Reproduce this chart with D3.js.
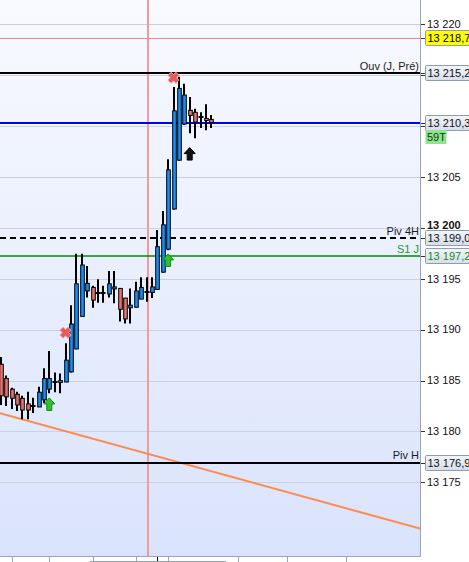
<!DOCTYPE html>
<html><head><meta charset="utf-8">
<script src="https://cdn.jsdelivr.net/npm/d3@7"></script>
<style>html,body{margin:0;padding:0;background:#fff;overflow:hidden}svg{display:block}</style>
</head><body><svg id="c" width="469" height="562"></svg>
<script>
// ---- DATA ----
const candleIdx = d3.range(40);
const opens  = [13186.6,13185.2,13184.15,13183.65,13183.25,13182.7,13182.45,13182.4,13183.1,13184.15,13184.9,13184.8,13184.85,13185.85,13188.1,13191.3,13193.8,13194.15,13193.6,13193.6,13193.5,13194.0,13194.05,13193.1,13192.15,13192.2,13193.0,13193.7,13193.65,13193.95,13195.65,13197.9,13201.85,13206.65,13210.2,13211.55,13211.35,13210.85,13210.75,13210.65];
const highs  = [13187.3,13185.5,13184.3,13183.9,13183.5,13183.9,13183.3,13184.4,13186.2,13187.9,13185.8,13185.7,13188.65,13192.4,13197.45,13197.45,13196.25,13194.3,13194.95,13194.3,13195.75,13195.75,13194.1,13193.1,13194.05,13194.7,13195.15,13195.15,13195.15,13199.8,13201.65,13206.75,13213.85,13214.85,13214.15,13212.85,13211.7,13211.35,13212.15,13211.1];
const lows   = [13182.6,13182.5,13182.2,13182.0,13181.2,13181.2,13181.8,13182.4,13182.8,13183.75,13183.85,13183.75,13184.85,13185.8,13188.1,13191.3,13193.15,13192.15,13192.65,13192.65,13193.15,13192.6,13190.8,13190.6,13190.6,13192.2,13193.0,13192.75,13193.1,13193.9,13195.6,13197.8,13201.8,13206.6,13210.1,13209.3,13208.8,13209.8,13209.6,13209.8];
const closes = [13183.5,13183.4,13183.25,13182.6,13182.1,13182.1,13182.45,13183.85,13185.2,13185.2,13184.9,13185.0,13187.0,13190.55,13194.5,13196.35,13194.55,13192.9,13193.6,13193.6,13194.5,13194.2,13192.0,13191.05,13192.4,13193.8,13194.15,13193.7,13194.2,13198.15,13200.3,13205.7,13211.5,13213.7,13213.05,13211.05,13210.4,13210.85,13210.55,13210.35];

const priceTicks = [13175,13180,13185,13190,13195,13200,13205,13210,13215,13220];
const timeTickIdx = [2,9,17,25,29,31,44,53,64];
const currentTickIdx = 29;
const cursorIdx = 27;
const scrollRange = [16.5,41.7];

const levelValues = [13218.7,13215.2,13210.3,13199.0,13197.2,13176.9];
const levelLabels = ["","Ouv (J, Pré)","","Piv 4H","S1 J","Piv H"];
const levelKinds  = ["last","open","avg","piv4h","s1","pivh"];

const trendIdx = [-0.13,77.65];
const trendVal = [13181.8,13170.45];

const sellIdx = [12,32], sellVal = [13189.7,13214.75];
const buyIdx = [9,31], buyVal = [13182.65,13196.8];
const entryIdx = [35], entryVal = [13207.25];
const tickCountLabel = "59T";

// ---- STYLES ----
const levelStyle = {
  last:{stroke:"#f08a8a",w:1,dash:null,box:"#ffff00",text:"#000",lab:"#222"},
  open:{stroke:"#000",w:2,dash:null,box:null,text:"#111",lab:"#222"},
  avg:{stroke:"#0000ff",w:2,dash:null,box:null,text:"#111",lab:"#222"},
  piv4h:{stroke:"#000",w:2,dash:"6,4",box:null,text:"#111",lab:"#1a1a2e"},
  s1:{stroke:"#008a00",w:1.3,dash:null,box:null,text:"#158a15",lab:"#1f9a1f"},
  pivh:{stroke:"#000",w:2,dash:null,box:null,text:"#111",lab:"#1a1a2e"}
};
const FONT = "'Liberation Sans', Arial, sans-serif";

const svg = d3.select("#c");
const plotR = 420, plotB = 556;
const x = d3.scaleLinear().domain([0,39]).range([0.7,211.3]);
const y = d3.scaleLinear().domain([13175,13220]).range([482.3,24.3]);
const loc = d3.formatLocale({decimal:",",thousands:" ",grouping:[3],currency:["",""]});
const fmtTick = loc.format(",d"), fmtBox = loc.format(",.1f");

const defs = svg.append("defs");
const bg = defs.append("linearGradient").attr("id","bg").attr("x1",0).attr("y1",0).attr("x2",0).attr("y2",1);
bg.append("stop").attr("offset","0%").attr("stop-color","#f9faff");
bg.append("stop").attr("offset","100%").attr("stop-color","#d9e3fb");
const bx = defs.append("linearGradient").attr("id","bx").attr("x1",0).attr("y1",0).attr("x2",0).attr("y2",1);
bx.append("stop").attr("offset","0%").attr("stop-color","#f2f5fb");
bx.append("stop").attr("offset","100%").attr("stop-color","#d6deec");
defs.append("clipPath").attr("id","clip").append("rect").attr("x",0).attr("y",0).attr("width",plotR).attr("height",plotB);

svg.append("rect").attr("x",0).attr("y",0).attr("width",plotR).attr("height",plotB).attr("fill","url(#bg)");

const plot = svg.append("g").attr("clip-path","url(#clip)");

// grid
plot.selectAll("line.grid").data(priceTicks).join("line")
  .attr("x1",0).attr("x2",plotR).attr("y1",d=>Math.round(y(d))+0.5).attr("y2",d=>Math.round(y(d))+0.5)
  .attr("stroke","#c9d1e2").attr("stroke-width",1);

// cursor line
plot.append("rect").attr("x",Math.round(x(cursorIdx))).attr("y",0).attr("width",2).attr("height",plotB)
  .attr("fill","#f49a9a").attr("shape-rendering","crispEdges");

// trend line
plot.append("line").attr("x1",x(trendIdx[0])).attr("y1",y(trendVal[0])).attr("x2",x(trendIdx[1])).attr("y2",y(trendVal[1]))
  .attr("stroke","#ff8a4e").attr("stroke-width",2);

// levels
levelValues.forEach((v,k)=>{
  const st = levelStyle[levelKinds[k]];
  const yy = st.w===1 ? Math.round(y(v))+0.5 : Math.round(y(v));
  plot.append("line").attr("x1",0).attr("x2",plotR).attr("y1",yy).attr("y2",yy)
    .attr("stroke",st.stroke).attr("stroke-width",st.w).attr("stroke-dasharray",st.dash);
  if(levelLabels[k]) {
    svg.append("text").attr("x",419).attr("y",y(v)-3.5).attr("text-anchor","end")
      .attr("font-family",FONT).attr("font-size",11).attr("fill",st.lab).text(levelLabels[k]);
  }
});

// candles
const cg = plot.append("g");
const bw = 3.6;
candleIdx.forEach(i=>{
  const cx = Math.round(x(i));
  const o=opens[i], c=closes[i], h=highs[i], l=lows[i];
  cg.append("line").attr("x1",cx).attr("x2",cx).attr("y1",y(h)).attr("y2",y(l)).attr("stroke","#000").attr("stroke-width",2);
  if (Math.abs(o-c) < 0.05) {
    cg.append("line").attr("x1",cx-2.5).attr("x2",cx+2.5).attr("y1",Math.round(y(o))).attr("y2",Math.round(y(o)))
      .attr("stroke","#000").attr("stroke-width",2);
  } else {
    const top = y(Math.max(o,c)), bot = y(Math.min(o,c));
    cg.append("rect").attr("x",cx-bw/2+0.5).attr("y",top).attr("width",bw).attr("height",Math.max(bot-top,1.5))
      .attr("fill", c>o ? "#1e8cf5" : "#e8726c").attr("stroke","#000").attr("stroke-width",1);
  }
});

// markers
const xPath = (()=>{const a=5.6,b=2.2;const pts=[[b,-a],[b,-b],[a,-b],[a,b],[b,b],[b,a],[-b,a],[-b,b],[-a,b],[-a,-b],[-b,-b],[-b,-a]];
  return "M"+pts.map(p=>{const r=Math.PI/4;return [(p[0]*Math.cos(r)-p[1]*Math.sin(r)).toFixed(2),(p[0]*Math.sin(r)+p[1]*Math.cos(r)).toFixed(2)].join(",");}).join("L")+"Z";})();
sellIdx.forEach((i,k)=>{
  plot.append("path").attr("d",xPath).attr("transform",`translate(${x(i)},${y(sellVal[k])})`)
    .attr("fill","#e65a5a").attr("stroke","#f2a0a0").attr("stroke-width",1);
});
const arrowPath = "M0,-6.5L5.5,-0.5L2.5,-0.5L2.5,6L-2.5,6L-2.5,-0.5L-5.5,-0.5Z";
buyIdx.forEach((i,k)=>{
  plot.append("path").attr("d",arrowPath).attr("transform",`translate(${x(i)},${y(buyVal[k])})`)
    .attr("fill","#2fbf2f").attr("stroke","#138a13").attr("stroke-width",1);
});
entryIdx.forEach((i,k)=>{
  plot.append("path").attr("d",arrowPath).attr("transform",`translate(${x(i)},${y(entryVal[k])})`)
    .attr("fill","#111").attr("stroke","#000").attr("stroke-width",1);
});

// borders
svg.append("line").attr("x1",plotR+0.5).attr("x2",plotR+0.5).attr("y1",0).attr("y2",plotB+0.5).attr("stroke","#98a6b4");
svg.append("line").attr("x1",0).attr("x2",plotR+0.5).attr("y1",plotB+0.5).attr("y2",plotB+0.5).attr("stroke","#98a6b4");

// bottom axis ticks
svg.selectAll("line.tt").data(timeTickIdx).join("line")
  .attr("x1",d=>Math.round(x(d))+0.5).attr("x2",d=>Math.round(x(d))+0.5).attr("y1",plotB+1).attr("y2",562)
  .attr("stroke",d=>d===currentTickIdx?"#000":"#98a6b4");
svg.append("line").attr("x1",x(scrollRange[0])).attr("x2",x(scrollRange[1])).attr("y1",561.5).attr("y2",561.5).attr("stroke","#98a6b4");

// right axis
const ax = svg.append("g");
const boxYs = levelValues.map(v=>y(v));
priceTicks.forEach(v=>{
  const yy = Math.round(y(v))+0.5;
  ax.append("line").attr("x1",plotR+1).attr("x2",plotR+5).attr("y1",yy).attr("y2",yy).attr("stroke","#333");
  const hidden = boxYs.some(b=>Math.abs(b-y(v))<5);
  if (hidden) return;
  const bold = v%100===0;
  ax.append("text").attr("x",427).attr("y",y(v)-(bold?2.5:0)).attr("dy","0.35em").attr("font-family",FONT).attr("font-size",11)
    .attr("font-weight",bold?"bold":"normal").attr("fill","#111").text(fmtTick(v));
});

// price boxes
levelValues.forEach((v,k)=>{
  const st = levelStyle[levelKinds[k]];
  const cy = Math.round(y(v));
  ax.append("line").attr("x1",plotR+1).attr("x2",plotR+6).attr("y1",cy+0.5).attr("y2",cy+0.5).attr("stroke","#333");
  ax.append("rect").attr("x",425.5).attr("y",cy-7.5).attr("width",50).attr("height",15).attr("rx",1)
    .attr("fill",st.box||"url(#bx)").attr("stroke","#8e9cab").attr("stroke-width",1);
  ax.append("text").attr("x",427.5).attr("y",cy).attr("dy","0.37em").attr("font-family",FONT).attr("font-size",11)
    .attr("fill",st.text).text(fmtBox(v));
});
// tick count box
const avgY = Math.round(y(levelValues[2]));
ax.append("rect").attr("x",425.5).attr("y",avgY+7).attr("width",21).attr("height",14).attr("fill","#8fe28f");
ax.append("text").attr("x",427).attr("y",avgY+14).attr("dy","0.36em").attr("font-family",FONT).attr("font-size",11)
  .attr("fill","#0d3d0d").text(tickCountLabel);
</script></body></html>
